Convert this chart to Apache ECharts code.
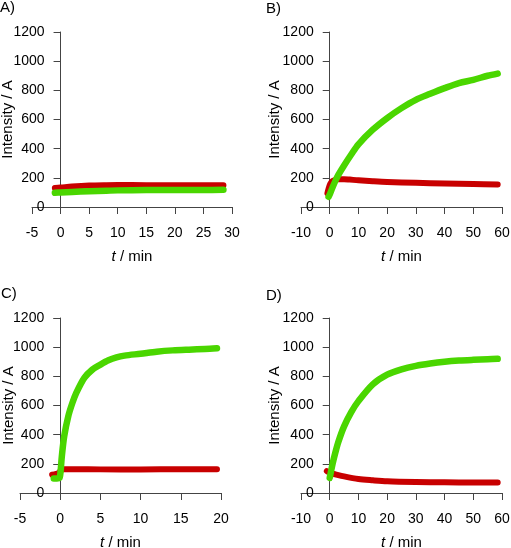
<!DOCTYPE html>
<html>
<head>
<meta charset="utf-8">
<script src="https://cdn.jsdelivr.net/npm/echarts@6/dist/echarts.min.js"></script>
<style>html,body{margin:0;padding:0;background:#fff}#c{width:511px;height:548px}</style>
</head>
<body>
<div id="c"></div>
<script>
// Panel labels
const panelLabels = ['A)', 'B)', 'C)', 'D)'];
// x-axis ranges per panel
const xMin = [-5, -10, -5, -10];
const xMax = [30, 60, 20, 60];
const xStep = [5, 10, 5, 10];
const yTicks = [0, 200, 400, 600, 800, 1000, 1200];

// Panel A
const aRedT = [-1, 0, 2, 5, 8, 10, 15, 20, 25, 28.5];
const aRed = [130, 133, 140, 147, 150, 151, 150, 149, 149, 149];
const aGreenT = [-1, 0, 2, 5, 8, 10, 15, 20, 25, 28.5];
const aGreen = [98, 100, 103, 108, 112, 114, 116, 117, 117, 118];

// Panel B
const bRedT = [-0.8, -0.4, 0, 0.5, 1, 2, 3, 5, 7, 10, 15, 20, 30, 40, 50, 58.5];
const bRed = [95, 125, 150, 168, 178, 187, 191, 191, 188, 183, 177, 172, 166, 161, 157, 154];
const bGreenT = [-0.4, 0, 1, 2, 3, 5, 7.5, 10, 15, 20, 25, 30, 35, 40, 45, 50, 55, 58.5];
const bGreen = [70, 85, 135, 180, 220, 285, 360, 430, 530, 610, 678, 735, 776, 815, 850, 872, 900, 915];

// Panel C
const cRedT = [-1, -0.5, -0.1, 0.1, 0.5, 2, 5, 10, 15, 19.5];
const cRed = [125, 132, 140, 158, 163, 163, 162, 162, 163, 163];
const cGreenT = [-0.8, -0.4, -0.1, 0.05, 0.2, 0.5, 1, 1.5, 2, 3, 4, 5, 6, 7, 8, 10, 12, 14, 16, 18, 19.5];
const cGreen = [100, 100, 102, 150, 250, 390, 525, 615, 686, 789, 846, 880, 910, 930, 942, 955, 969, 978, 983, 987, 992];

// Panel D
const dRedT = [-1, 0, 2, 5, 10, 15, 20, 30, 40, 50, 58.5];
const dRed = [150, 138, 128, 114, 96, 87, 80, 75, 73, 72, 72];
const dGreenT = [0, 1, 2, 3, 5, 7.5, 10, 15, 20, 25, 30, 35, 40, 45, 50, 55, 58.5];
const dGreen = [103, 200, 280, 350, 457, 555, 630, 745, 811, 848, 872, 888, 900, 908, 913, 917, 920];

const redSets = [[aRedT, aRed], [bRedT, bRed], [cRedT, cRed], [dRedT, dRed]];
const greenSets = [[aGreenT, aGreen], [bGreenT, bGreen], [cGreenT, cGreen], [dGreenT, dGreen]];

const RED = '#c80000';
const GREEN = '#4ad600';
const AXIS = '#444';
const FONT = 'Liberation Sans, Arial, sans-serif';

const grids = [
  {left: 32, top: 32, width: 200, height: 175},
  {left: 301, top: 32, width: 201, height: 175},
  {left: 20, top: 318, width: 201, height: 175},
  {left: 301, top: 318, width: 201, height: 175}
];
const titlePos = [[0, 0], [266, 1], [1, 286], [266, 288]];
const yNameGap = [45, 47, 44, 47];

const zip = (t, v) => t.map((x, i) => [x, v[i]]);
// shift each y axis inward so that it sits at t = 0 of its x axis
const yOffset = i => -((0 - xMin[i]) / (xMax[i] - xMin[i])) * grids[i].width;

const option = {
  animation: false,
  backgroundColor: '#fff',
  title: panelLabels.map((txt, i) => ({
    text: txt, left: titlePos[i][0], top: titlePos[i][1], padding: 0,
    textStyle: {fontFamily: FONT, fontSize: 15, fontWeight: 'normal', color: '#000'}
  })),
  grid: grids.map(g => Object.assign({containLabel: false, outerBoundsMode: 'none'}, g)),
  xAxis: grids.map((g, i) => ({
    type: 'value', gridIndex: i, min: xMin[i], max: xMax[i], interval: xStep[i],
    name: '{i|t} / min', nameLocation: 'middle', nameGap: 42, nameMoveOverlap: false,
    nameTextStyle: {fontFamily: FONT, fontSize: 15, color: '#000',
      rich: {i: {fontFamily: FONT, fontSize: 15, fontStyle: 'italic', color: '#000'}}},
    axisLine: {show: true, onZero: false, lineStyle: {color: AXIS, width: 1}},
    axisTick: {show: true, inside: false, length: 7, lineStyle: {color: AXIS}},
    axisLabel: {fontFamily: FONT, fontSize: 14, color: '#000', margin: 19},
    splitLine: {show: false}
  })),
  yAxis: grids.map((g, i) => ({
    type: 'value', gridIndex: i, min: 0, max: 1200, interval: 200,
    position: 'left', offset: yOffset(i),
    name: 'Intensity / A', nameLocation: 'middle', nameGap: yNameGap[i], nameMoveOverlap: false,
    nameTextStyle: {fontFamily: FONT, fontSize: 15, color: '#000'},
    axisLine: {show: true, onZero: false, lineStyle: {color: AXIS, width: 1}},
    axisTick: {show: true, inside: false, length: 7, lineStyle: {color: AXIS}},
    axisLabel: {fontFamily: FONT, fontSize: 14, color: '#000', margin: 16,
      formatter: v => yTicks.includes(v) ? String(v) : ''},
    splitLine: {show: false}
  })),
  series: []
};

for (let i = 0; i < 4; i++) {
  option.series.push({
    type: 'line', xAxisIndex: i, yAxisIndex: i,
    data: zip(redSets[i][0], redSets[i][1]),
    showSymbol: false, smooth: 0.3,
    lineStyle: {color: RED, width: 6, cap: 'round', join: 'round'},
    itemStyle: {color: RED}, z: 2
  });
  option.series.push({
    type: 'line', xAxisIndex: i, yAxisIndex: i,
    data: zip(greenSets[i][0], greenSets[i][1]),
    showSymbol: false, smooth: 0.3,
    lineStyle: {color: GREEN, width: 6.5, cap: 'round', join: 'round'},
    itemStyle: {color: GREEN}, z: 3
  });
}

const chart = echarts.init(document.getElementById('c'), null, {renderer: 'canvas'});
chart.setOption(option);
</script>
</body>
</html>
